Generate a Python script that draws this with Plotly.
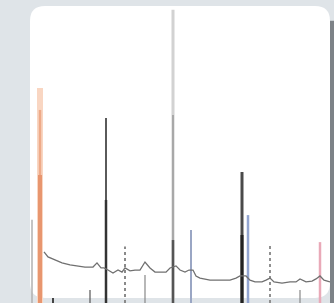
import plotly.graph_objects as go

# Measured pattern (2theta, intensity)
two_theta = [13.5, 14.5, 16.25, 18.0, 20.0, 22.0, 23.75, 25.75, 26.75, 27.75, 28.5, 29.5, 30.75, 32.0,
             33.0, 33.75, 35.0, 36.25, 37.5, 38.75, 40.0, 41.25, 42.5, 44.0, 45.0, 46.5, 47.5, 48.75,
             49.75, 50.75, 51.5, 52.5, 55.0, 57.5, 60.0, 61.5, 62.5, 64.0, 65.0, 66.25, 68.0, 69.0,
             70.0, 71.0, 73.0, 75.0, 76.5, 77.5, 79.0, 80.5, 81.5, 82.5, 83.5, 85.0]
intensity = [17.2, 15.5, 14.5, 13.5, 12.8, 12.5, 12.1, 12.1, 13.5, 11.8, 11.8, 11.1, 10.1, 11.1,
             10.4, 11.8, 10.8, 11.1, 11.1, 13.8, 11.8, 10.4, 10.4, 10.4, 11.8, 12.5, 11.1, 10.4,
             11.1, 11.1, 9.1, 8.4, 7.7, 7.7, 7.7, 8.4, 9.1, 9.1, 7.7, 7.1, 7.1, 7.7,
             8.4, 7.1, 6.7, 7.1, 7.1, 8.1, 7.1, 7.4, 8.1, 9.1, 7.7, 7.1]

# Reference sticks (position, height)
stick_pos = [10.5, 12.5, 12.5, 12.5, 15.75, 25.0, 29.0, 29.0, 33.75, 38.75, 45.75, 45.75, 45.75,
             50.25, 63.0, 63.0, 64.5, 70.0, 77.5, 82.5]
stick_height = [28.0, 72.4, 65.0, 43.1, 1.7, 4.4, 62.3, 34.7, 19.0, 9.4, 98.7, 63.3, 21.2,
                24.6, 44.1, 22.9, 29.6, 19.2, 4.4, 20.5]
stick_color = ["#b0b0b0", "#f9d6c2", "#eeaa88", "#e8966f", "#444444", "#555555", "#5a5a5a",
               "#333333", "#8a8a8a", "#888888", "#d2d2d2", "#a8a8a8", "#555555", "#9aa6c4",
               "#4a4a4a", "#222222", "#93a5d0", "#909090", "#888888", "#e9a9b8"]
stick_width = [1.5, 6, 2.5, 4, 2, 1.2, 2, 2.5, 2, 1.2, 3, 2, 2.5, 2, 3, 3, 2.5, 2, 1.2, 2.5]
stick_dash = ["solid", "solid", "solid", "solid", "solid", "solid", "solid", "solid", "dot",
              "solid", "solid", "solid", "solid", "solid", "solid", "solid", "solid", "dot",
              "solid", "solid"]

fig = go.Figure()

for p, h, c, w, d in zip(stick_pos, stick_height, stick_color, stick_width, stick_dash):
    fig.add_trace(go.Scatter(x=[p, p], y=[0, h], mode="lines",
                             line=dict(color=c, width=w, dash=d), showlegend=False,
                             hoverinfo="skip"))

fig.add_trace(go.Scatter(x=two_theta, y=intensity, mode="lines",
                         line=dict(color="#707070", width=1.3), showlegend=False))

# card shape in paper coords (rounded)
rx, ry = 0.05, 0.05
x0, x1, y0, y1 = 0.0, 1.0, 0.017, 1.0
path = (f"M {x0+rx},{y1} L {x1-rx},{y1} Q {x1},{y1} {x1},{y1-ry} "
        f"L {x1},{y0+ry} Q {x1},{y0} {x1-rx},{y0} L {x0+rx},{y0} Q {x0},{y0} {x0},{y0+ry} "
        f"L {x0},{y1-ry} Q {x0},{y1} {x0+rx},{y1} Z")

fig.update_layout(
    width=334, height=303,
    margin=dict(l=30, r=4, t=6, b=0),
    paper_bgcolor="#dfe4e8",
    plot_bgcolor="rgba(0,0,0,0)",
    xaxis=dict(range=[10, 85], visible=False, fixedrange=True),
    yaxis=dict(range=[0, 100], visible=False, fixedrange=True),
    shapes=[
        dict(type="rect", xref="paper", yref="paper", x0=1.0, x1=1.02, y0=-0.05, y1=0.95,
             fillcolor="#7d8287", line=dict(width=0), layer="below"),
        dict(type="path", xref="paper", yref="paper", path=path,
             fillcolor="white", line=dict(width=0), layer="below"),
    ],
)

fig.write_html("out.html", config={"displayModeBar": False},
               post_script="document.body.style.margin='0';document.body.style.overflow='hidden';")
